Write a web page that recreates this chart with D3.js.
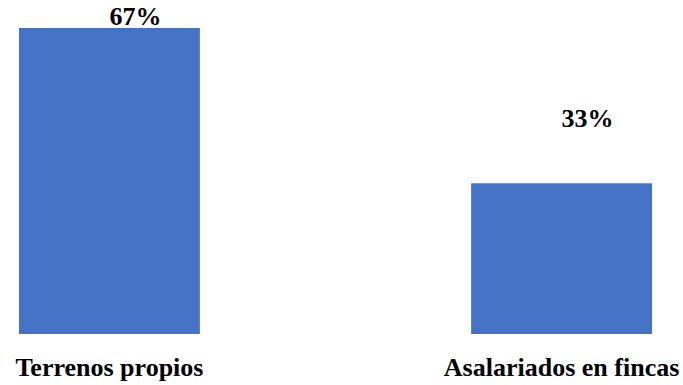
<!DOCTYPE html>
<html>
<head>
<meta charset="utf-8">
<script src="https://cdn.jsdelivr.net/npm/d3@7"></script>
<style>
  html, body { margin: 0; padding: 0; background: #fff; }
  svg { display: block; }
</style>
</head>
<body>
<svg id="chart" width="683" height="385"></svg>
<script>
const categories = ["Terrenos propios", "Asalariados en fincas"];
const values = [67, 33];
const valueLabels = ["67%", "33%"];

const FONT = "'Liberation Serif', 'Times New Roman', serif";
const svg = d3.select("#chart");

const x = d3.scaleBand()
  .domain(categories)
  .range([19, 652])
  .paddingInner(0.6)
  .paddingOuter(0);

const y = d3.scaleLinear()
  .domain([0, 67])
  .range([334, 28]);

const data = categories.map((c, i) => ({ cat: c, value: values[i], label: valueLabels[i] }));

// bars
svg.selectAll("rect.bar")
  .data(data)
  .join("rect")
  .attr("class", "bar")
  .attr("x", d => x(d.cat))
  .attr("y", d => y(d.value))
  .attr("width", x.bandwidth())
  .attr("height", d => y(0) - y(d.value))
  .attr("fill", "#4472C4");

// value labels, offset to the right of the bar centre; the short bar's label floats higher
const labelLift = [3, 56];
svg.selectAll("text.value")
  .data(data)
  .join("text")
  .attr("class", "value")
  .attr("x", d => x(d.cat) + x.bandwidth() / 2 + 26)
  .attr("y", (d, i) => y(d.value) - labelLift[i])
  .attr("text-anchor", "middle")
  .style("font-family", FONT)
  .style("font-weight", "bold")
  .style("font-size", "26px")
  .style("fill", "#000")
  .text(d => d.label);

// category axis labels
const xAxis = d3.axisBottom(x).tickSize(0).tickPadding(0);
const gx = svg.append("g")
  .attr("transform", `translate(0, ${y(0)})`)
  .call(xAxis);
gx.select(".domain").remove();
gx.selectAll(".tick text")
  .attr("dy", null)
  .attr("y", 42)
  .style("font-family", FONT)
  .style("font-weight", "bold")
  .style("font-size", "26px")
  .style("fill", "#000");
</script>
</body>
</html>
